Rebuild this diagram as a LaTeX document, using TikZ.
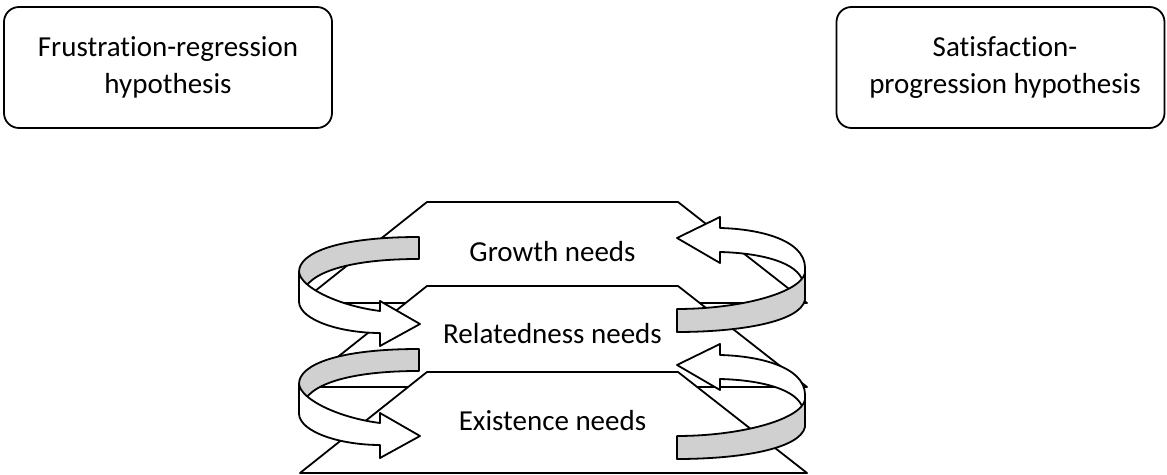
\documentclass[tikz,border=0pt]{standalone}
\usepackage{fontspec}
\setmainfont{Carlito}[Ligatures=NoCommon]
\definecolor{ribbon}{RGB}{208,208,208}

\begin{document}
\begin{tikzpicture}[
  x=0.5pt, y=-0.5pt,
  font=\fontsize{14.5}{18.8}\selectfont,
  line width=0.9pt, line join=round,
  hbox/.style={draw, rounded corners=7.5pt, align=center, minimum width=164pt, minimum height=60.5pt, inner sep=0pt},
  plate/.style={draw, fill=white},
  lbl/.style={anchor=base},
  back/.style={draw, fill=ribbon},
  front/.style={draw, fill=white},
  % ribbon turning down on the left side
  lturn/.pic={
    \draw[back] (0,0) .. controls (-79,0) and (-120,15) .. (-120,35) -- (-120,57) -- (-117,57) .. controls (-111,35) and (-69,22) .. (0,22) -- cycle;
    \draw[front] (-120,35) .. controls (-118,51) and (-79,69) .. (-39,74) -- (-39,64) -- (1,87) -- (-39,109) -- (-39,96) .. controls (-79,96) and (-119,83) .. (-120,65) -- cycle;
  },
  % ribbon turning up on the right side
  rturn/.pic={
    \draw[front] (128,-42) .. controls (127,-69) and (83,-80) .. (43,-81) -- (43,-92) -- (0,-71) -- (43,-46) -- (43,-57) .. controls (83,-56) and (121,-47) .. (126,-27) -- (128,-27) -- cycle;
    \draw[back] (0,0) .. controls (63,0) and (123,-16) .. (128,-36) -- (128,-9) .. controls (123,13) and (63,23) .. (0,23) -- cycle;
  }
]
\useasboundingbox (0,0) rectangle (1167,475);

\node[hbox] (frust) at (168,67.5) {Frustration-regression\\hypothesis};
\node[hbox] (satis) at (1000.5,67.5) {\hspace*{4.5pt}Satisfaction-\\\hspace*{4.5pt}progression hypothesis};

% the three levels
\draw[plate] (427,202) -- (678,202) -- (807,303) -- (300,303) -- cycle;
\node[lbl] (growth) at (552.5,261.7) {Growth needs};
\draw[plate] (427,286) -- (678,286) -- (807,387) -- (300,387) -- cycle;
\node[lbl] (relat) at (552.5,344) {Relatedness needs};
\draw[plate] (427,372) -- (678,372) -- (807,473) -- (300,473) -- cycle;
\node[lbl] (exist) at (552.5,430.7) {Existence needs};

% regression and progression
\pic at (419,237) {lturn};
\pic at (419,349) {lturn};
\pic at (677,309) {rturn};
\pic at (677,436) {rturn};
\end{tikzpicture}
\end{document}
